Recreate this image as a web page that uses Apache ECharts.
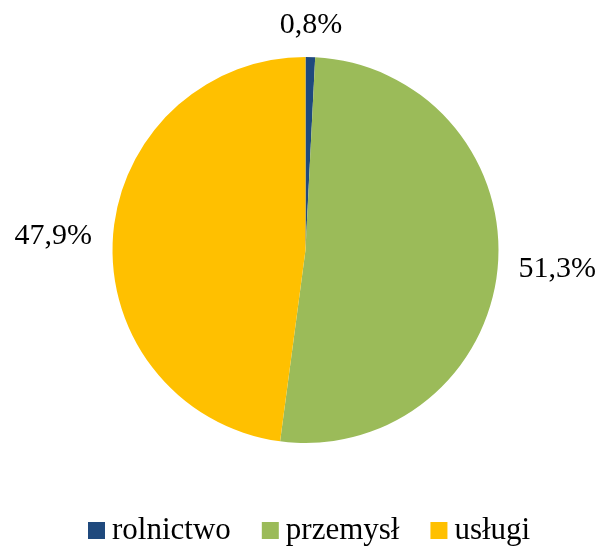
<!DOCTYPE html>
<html>
<head>
<meta charset="utf-8">
<script src="https://cdn.jsdelivr.net/npm/echarts@6/dist/echarts.min.js"></script>
<style>
  html, body { margin: 0; padding: 0; background: #fff; }
  #chart { width: 600px; height: 547px; }
</style>
</head>
<body>
<div id="chart"></div>
<script>
// dane
var categories = ['rolnictwo', 'przemysł', 'usługi'];
var shares = [0.8, 51.3, 47.9];
var colors = ['#1F497D', '#9BBB59', '#FFC000'];

var cx = 305.5, cy = 250, R = 193;
var gap = 21;
var serif = 'Liberation Serif';

var myChart = echarts.init(document.getElementById('chart'));

var total = shares.reduce(function (a, b) { return a + b; }, 0);

// etykieta przy krawędzi wycinka, jak w Excelu
function placeLabel(p) {
  var before = 0;
  for (var i = 0; i < p.dataIndex; i++) before += shares[i];
  var a = (before + shares[p.dataIndex] / 2) / total * Math.PI * 2;
  var sx = Math.sin(a), cy2 = Math.cos(a);
  var x = cx + (R + gap) * sx;
  var y = cy - (R + gap) * cy2;
  if (Math.abs(sx) >= Math.abs(cy2)) {
    return { x: x, y: y, align: sx > 0 ? 'left' : 'right', verticalAlign: 'middle' };
  }
  return { x: x, y: y + 4, align: 'center', verticalAlign: cy2 > 0 ? 'bottom' : 'top' };
}

var option = {
  animation: false,
  color: colors,
  legend: {
    data: categories,
    top: 515,
    left: 88,
    padding: 0,
    icon: 'rect',
    itemWidth: 17,
    itemHeight: 17,
    itemGap: 31,
    textStyle: { fontFamily: serif, fontSize: 31, color: '#000', padding: [0, 0, 0, 2] }
  },
  series: [{
    type: 'pie',
    center: [cx, cy],
    radius: R,
    startAngle: 90,
    clockwise: true,
    avoidLabelOverlap: false,
    emphasis: { disabled: true },
    itemStyle: { borderWidth: 0 },
    label: {
      show: true,
      position: 'outside',
      fontFamily: serif,
      fontSize: 30,
      color: '#000',
      formatter: function (p) {
        return shares[p.dataIndex].toFixed(1).replace('.', ',') + '%';
      }
    },
    labelLine: { show: false },
    labelLayout: placeLabel,
    data: categories.map(function (name, i) {
      return { name: name, value: shares[i] };
    })
  }]
};

myChart.setOption(option);
</script>
</body>
</html>
